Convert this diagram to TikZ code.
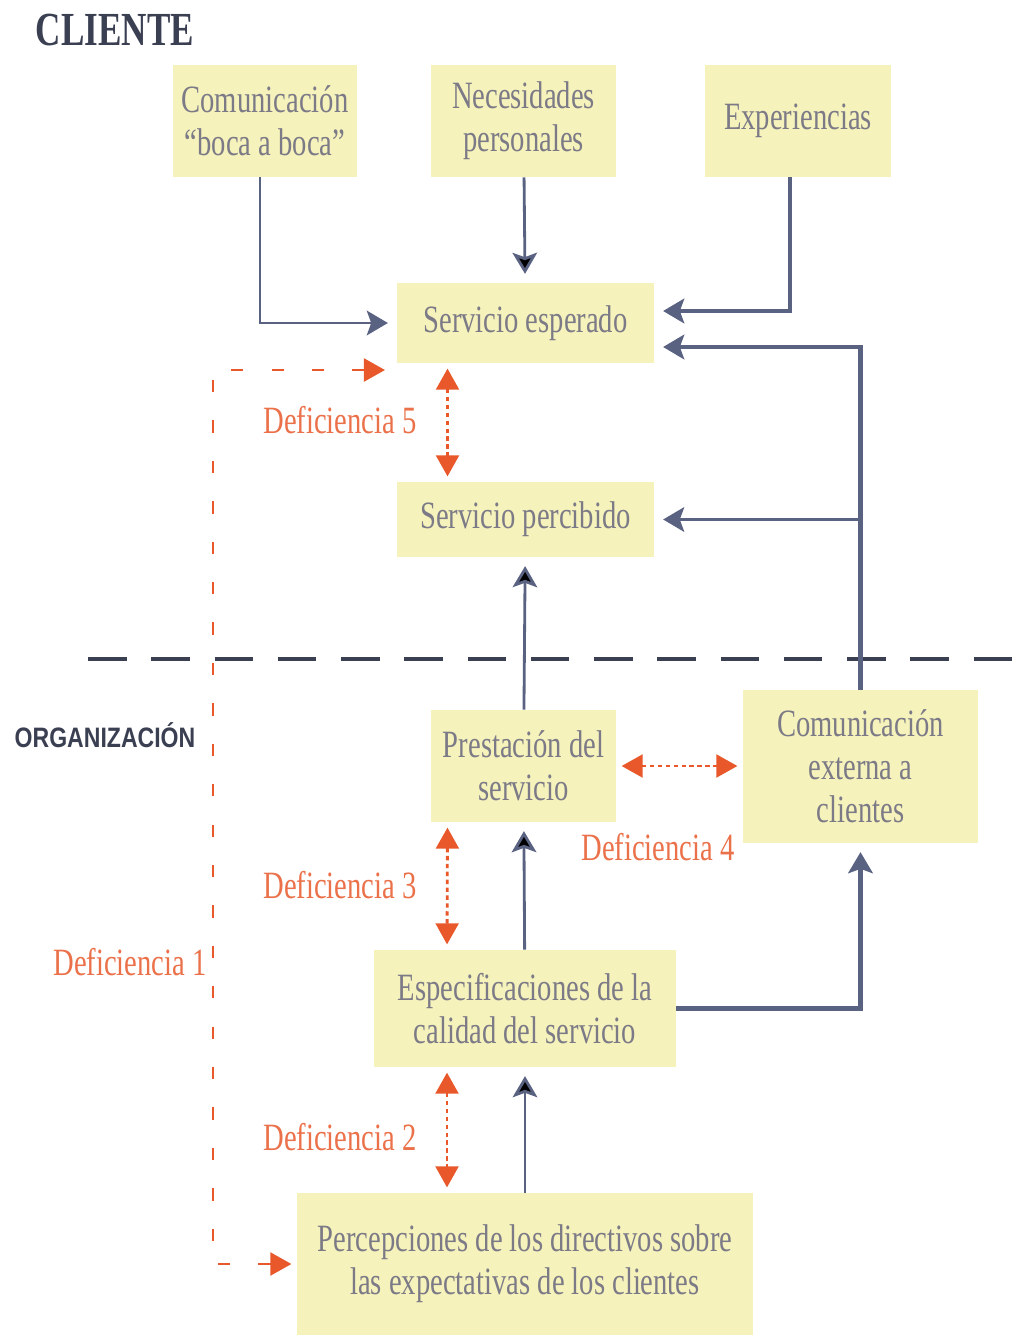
\documentclass[tikz,border=0pt]{standalone}
\usepackage{fontspec}
\newfontfamily\boxfont[FakeStretch=0.74]{Liberation Serif}
\newfontfamily\labfont[FakeStretch=0.82]{Liberation Sans}
\usetikzlibrary{arrows.meta,calc,positioning}

\definecolor{boxfill}{HTML}{F5F2BC}
\definecolor{slate}{HTML}{5A6282}
\definecolor{gaporange}{HTML}{E8582A}
\definecolor{boxtext}{HTML}{7C7A86}
\definecolor{headcol}{HTML}{3A3F52}

\begin{document}
\begin{tikzpicture}[x=0.02cm,y=-0.02cm,
  box/.style={fill=boxfill, inner sep=0pt, align=center, text=boxtext,
    font=\boxfont\fontsize{22}{24.5}\selectfont},
  gaplabel/.style={text=gaporange!85, font=\boxfont\fontsize{22}{24}\selectfont},
  flow/.style={draw=slate, line width=1.6pt, shorten >=5pt,
    -{Stealth[length=12pt,width=14pt,inset=2.5pt]}},
  thick flow/.style={flow, line width=2.3pt},
  gap/.style={draw=gaporange, line width=1.6pt, dash pattern=on 2.5pt off 2pt,
    shorten >=3pt, shorten <=3pt,
    {Triangle[length=12pt,width=13pt]}-{Triangle[length=12pt,width=13pt]}},
  gaplong/.style={gap, dash pattern=on 7pt off 16pt, shorten <=0pt},
  sep/.style={draw=headcol, line width=2.3pt, dash pattern=on 22pt off 14pt}]

\useasboundingbox (0,0) rectangle (1028,1335);

\draw[sep] (88,659) -- (1028,659);

\node[font=\boxfont\bfseries\fontsize{27}{30}\selectfont, text=headcol] (cliente) at (115,30) {CLIENTE};
\node[font=\labfont\bfseries\fontsize{16}{18}\selectfont, text=headcol] (organiz) at (105,735) {ORGANIZACIÓN};

\node[box, minimum width=3.68cm, minimum height=2.24cm] (boca) at (265,121) {Comunicación\\“boca a boca”};
\node[box, minimum width=3.7cm, minimum height=2.24cm] (necesidades) at (523.5,121) {Necesidades\\personales};
\node[box, minimum width=3.72cm, minimum height=2.24cm] (experiencias) at (798,121) {Experiencias};
\node[box, minimum width=5.14cm, minimum height=1.6cm] (esperado) at (525.5,323) {Servicio esperado};
\node[box, minimum width=5.14cm, minimum height=1.5cm] (percibido) at (525.5,519.5) {Servicio percibido};
\node[box, minimum width=3.7cm, minimum height=2.24cm] (prestacion) at (523.5,766) {Prestación del\\servicio};
\node[box, minimum width=4.7cm, minimum height=3.06cm] (comext) at (860.5,766.5) {Comunicación\\externa a\\clientes};
\node[box, minimum width=6.04cm, minimum height=2.34cm] (especif) at (525,1008.5) {Especificaciones de la\\calidad del servicio};
\node[box, minimum width=9.12cm, minimum height=2.84cm] (percep) at (525,1264) {Percepciones de los directivos sobre\\las expectativas de los clientes};

\node[gaplabel] (def5) at (340,420) {Deficiencia 5};
\node[gaplabel] (def4) at (658,847) {Deficiencia 4};
\node[gaplabel] (def3) at (340,885) {Deficiencia 3};
\node[gaplabel] (def2) at (340,1137) {Deficiencia 2};
\node[gaplabel] (def1) at (130,962) {Deficiencia 1};

\path[flow]
(necesidades) edge (esperado)
(prestacion) edge (percibido)
(especif) edge (prestacion)
(percep) edge (especif)
; %end path

\draw[flow] ($(boca.south)+(-5,0)$) |- (esperado.west);
\draw[thick flow] ($(experiencias.south)+(-8,0)$) |- ($(esperado.east)+(0,-12)$);
\draw[thick flow] (comext.north) |- ($(esperado.east)+(0,24)$);
\draw[flow] (comext.north) |- (percibido.east);
\draw[thick flow] (especif.east) -| (comext.south);

\draw[gap] ($(esperado.south)+(-78,0)$) -- ($(percibido.north)+(-78,0)$);
\draw[gap] ($(prestacion.south)+(-76,0)$) -- ($(especif.north)+(-78,0)$);
\draw[gap] ($(especif.south)+(-78,0)$) -- ($(percep.north)+(-78,0)$);
\draw[gap] (prestacion.east) -- (prestacion.east -| comext.west);

\coordinate (d1top) at (385,370);
\coordinate (d1corner) at (213,370);
\draw[gaplong] (d1top) -- (d1corner) |- (percep.west);
\end{tikzpicture}
\end{document}
